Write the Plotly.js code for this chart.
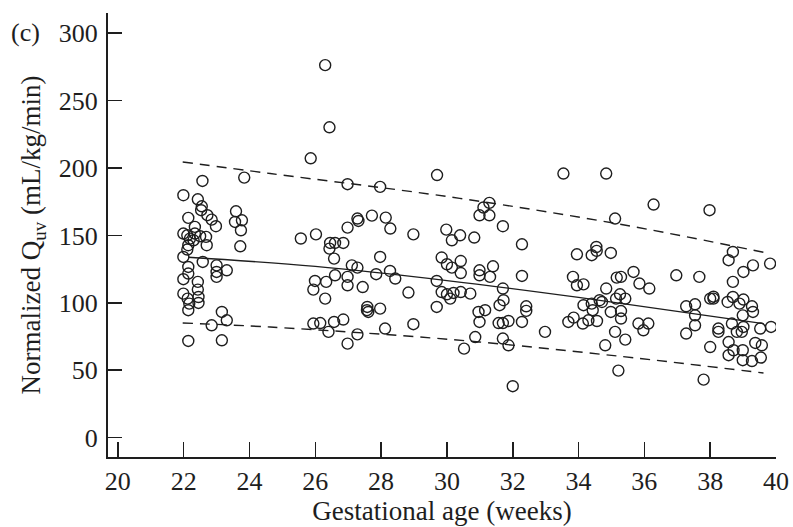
<!DOCTYPE html>
<html>
<head>
<meta charset="utf-8">
<script src="https://cdn.plot.ly/plotly-3.0.1.min.js"></script>
<style>
  html, body { margin: 0; padding: 0; background: #fff; }
  #chart { width: 793px; height: 527px; }
</style>
</head>
<body>
<div id="chart"></div>
<script>
// Gestational age (weeks) and normalized umbilical venous flow (mL/kg/min)
const gestAge = [
  22.57, 23.84, 21.99, 22.43, 22.55, 22.53, 22.72, 22.85, 22.98, 23.59, 23.56, 23.77, 23.74, 23.72,
  22.14, 21.99, 22.11, 22.19, 22.34, 22.50, 22.68, 22.14, 22.70, 22.11, 21.99, 22.58, 22.14, 23.00,
  23.00, 23.31, 23.00, 21.99, 22.14, 22.43, 22.43, 21.99, 22.45, 22.12, 22.17, 22.45, 22.14, 23.16,
  23.31, 22.85, 22.14, 23.16, 22.34, 22.30,
  26.30, 26.43, 25.86, 29.70, 26.98, 27.97, 27.28, 27.31, 27.72, 28.14, 28.28, 26.98, 25.56, 26.02,
  28.98, 29.98, 26.45, 26.60, 26.85, 26.43, 26.57, 27.97, 29.84, 27.11, 27.28, 26.60, 26.98, 27.85,
  28.27, 28.43, 25.99, 26.33, 25.94, 26.98, 27.44, 28.83, 26.30, 29.69, 29.84, 29.69, 27.58, 27.61,
  27.97, 27.57, 25.94, 26.15, 26.40, 26.57, 26.85, 27.28, 26.98, 28.12, 28.98, 30.00,
  33.54, 34.84, 31.29, 31.11, 30.99, 31.29, 31.70, 35.11, 30.40, 30.15, 30.83, 32.28, 33.95, 34.40,
  34.54, 34.55, 34.98, 30.15, 30.42, 30.42, 30.99, 30.99, 31.40, 31.31, 32.28, 31.70, 31.72, 31.60,
  33.83, 33.95, 34.15, 34.84, 35.16, 30.00, 30.20, 30.42, 30.71, 30.10, 30.96, 31.16, 30.99, 31.57,
  31.70, 31.87, 32.41, 32.41, 32.28, 30.86, 30.52, 31.70, 31.87, 32.98, 32.00, 34.15, 34.40, 34.43,
  33.85, 33.69, 34.13, 34.30, 34.56, 34.98, 35.11, 34.81, 35.21, 34.64, 35.14,
  36.28, 37.98, 38.69, 38.56, 39.30, 39.82, 39.01, 38.69, 35.67, 35.29, 35.85, 36.15, 36.97, 37.67,
  35.26, 35.42, 34.71, 35.29, 35.29, 35.82, 36.12, 35.97, 35.42, 37.27, 37.54, 37.54, 37.54, 37.27,
  38.10, 38.10, 38.00, 37.80, 38.25, 38.25, 38.53, 38.69, 38.89, 39.01, 39.27, 39.30, 38.99, 38.66,
  39.01, 38.96, 38.81, 39.52, 39.85, 38.56, 38.56, 38.71, 38.99, 38.99, 39.27, 39.54, 39.37, 39.57,
  38.00
];
const flowQuv = [
  190.4, 192.9, 179.8, 176.8, 171.6, 168.7, 165.0, 161.7, 156.8, 167.9, 160.0, 161.2, 153.8, 141.9,
  163.0, 151.4, 150.1, 147.6, 151.4, 149.4, 148.9, 142.7, 142.7, 139.5, 134.0, 130.3, 126.6, 127.8,
  122.9, 124.1, 119.2, 117.5, 121.7, 115.5, 109.8, 106.8, 104.3, 103.1, 99.4, 99.9, 94.5, 93.2,
  87.0, 83.3, 71.7, 72.2, 156.3, 146.4,
  276.3, 230.2, 207.2, 194.8, 188.0, 186.0, 162.5, 160.7, 164.7, 163.2, 155.1, 155.8, 147.7, 150.8,
  150.8, 154.3, 144.4, 144.4, 144.4, 140.2, 132.8, 134.0, 133.6, 127.8, 126.1, 120.4, 119.2, 121.2,
  123.6, 118.0, 116.2, 115.5, 109.8, 113.0, 111.7, 107.6, 103.1, 116.2, 108.0, 96.9, 96.9, 93.2,
  95.7, 94.5, 84.6, 85.0, 78.4, 85.8, 87.6, 76.6, 69.7, 80.9, 84.1, 128.6,
  195.9, 195.9, 174.1, 170.7, 164.9, 164.9, 156.8, 162.5, 150.1, 146.4, 148.4, 143.4, 136.0, 135.3,
  141.4, 138.5, 137.0, 126.1, 131.0, 122.1, 124.1, 120.4, 127.1, 119.2, 119.9, 110.6, 101.9, 98.2,
  119.2, 113.0, 113.7, 110.6, 118.7, 106.3, 107.3, 108.0, 106.8, 103.1, 93.2, 94.5, 85.8, 85.0,
  85.0, 86.5, 97.4, 94.0, 85.8, 74.6, 66.0, 73.5, 68.5, 78.4, 38.1, 98.2, 99.4, 94.5,
  89.0, 85.8, 84.6, 87.0, 86.5, 93.2, 78.4, 68.5, 49.7, 101.9, 103.1,
  172.9, 168.7, 137.7, 131.6, 127.8, 129.1, 122.9, 115.5, 122.9, 119.2, 114.3, 110.6, 120.4, 119.2,
  106.3, 103.1, 100.6, 93.9, 88.3, 84.6, 84.6, 79.6, 72.7, 97.4, 98.9, 90.7, 83.3, 77.2,
  103.1, 104.5, 67.2, 43.0, 80.9, 78.4, 100.6, 104.3, 99.4, 102.4, 97.4, 93.2, 90.7, 84.6,
  82.1, 78.4, 78.4, 80.9, 82.1, 70.9, 61.1, 64.8, 64.8, 57.4, 56.8, 59.4, 70.2, 68.5,
  103.1
];

// Fitted mean curve and the upper / lower prediction bounds
const fitAge = [22.14, 26.0, 30.0, 34.0, 39.62];
const fitMean = [133.8, 127.0, 116.5, 104.0, 84.6];
const boundAgeUpper = [21.97, 24.63, 30.10, 35.26, 39.82];
const boundUpper = [204.5, 195.9, 178.5, 158.3, 136.5];
const boundAgeLower = [21.97, 24.63, 30.10, 35.26, 39.62];
const boundLower = [85.0, 82.0, 72.8, 60.3, 47.9];

const xTicks = [20, 22, 24, 26, 28, 30, 32, 34, 36, 38, 40];
const yTicks = [0, 50, 100, 150, 200, 250, 300];

const ink = '#1e1e1e';
const serif = 'Liberation Serif, Times New Roman, serif';

const traces = [
  {
    x: gestAge, y: flowQuv, type: 'scatter', mode: 'markers',
    marker: { symbol: 'circle-open', size: 11, color: ink, line: { width: 1.4, color: ink } },
    hoverinfo: 'skip'
  },
  {
    x: fitAge, y: fitMean, type: 'scatter', mode: 'lines',
    line: { color: ink, width: 1.3, shape: 'spline' }, hoverinfo: 'skip'
  },
  {
    x: boundAgeUpper, y: boundUpper, type: 'scatter', mode: 'lines',
    line: { color: ink, width: 1.4, dash: '10px,7px', shape: 'spline' }, hoverinfo: 'skip'
  },
  {
    x: boundAgeLower, y: boundLower, type: 'scatter', mode: 'lines',
    line: { color: ink, width: 1.4, dash: '10px,7px', shape: 'spline' }, hoverinfo: 'skip'
  }
];

const layout = {
  width: 793, height: 527,
  margin: { l: 108, r: 17, t: 13, b: 70, pad: 0 },
  paper_bgcolor: '#fff', plot_bgcolor: '#fff',
  showlegend: false,
  font: { family: serif, color: ink, size: 26 },
  xaxis: {
    range: [19.70, 40], tickvals: xTicks, ticktext: xTicks.map(String),
    ticks: 'inside', ticklen: 15, tickwidth: 1.5, tickcolor: ink,
    showline: true, linewidth: 2, linecolor: ink,
    showgrid: false, zeroline: false, automargin: false,
    tickfont: { family: serif, size: 26, color: ink },
    title: { text: 'Gestational age (weeks)', font: { family: serif, size: 27, color: ink }, standoff: 6 }
  },
  yaxis: {
    range: [-14.4, 315], tickvals: yTicks, ticktext: yTicks.map(String),
    ticks: 'inside', ticklen: 14, tickwidth: 1.5, tickcolor: ink,
    showline: true, linewidth: 2, linecolor: ink,
    showgrid: false, zeroline: false, automargin: false,
    ticklabelstandoff: 3,
    tickfont: { family: serif, size: 26, color: ink },
    title: { text: 'Normalized Q<sub>uv</sub> (mL/kg/min)', font: { family: serif, size: 27, color: ink }, standoff: 10 }
  },
  annotations: [
    {
      text: '(c)', xref: 'paper', yref: 'paper', x: -0.124, y: 0.955,
      xanchor: 'center', yanchor: 'middle', showarrow: false,
      font: { family: serif, size: 26, color: ink }
    }
  ]
};

Plotly.newPlot('chart', traces, layout, { displayModeBar: false, staticPlot: true });
</script>
</body>
</html>
